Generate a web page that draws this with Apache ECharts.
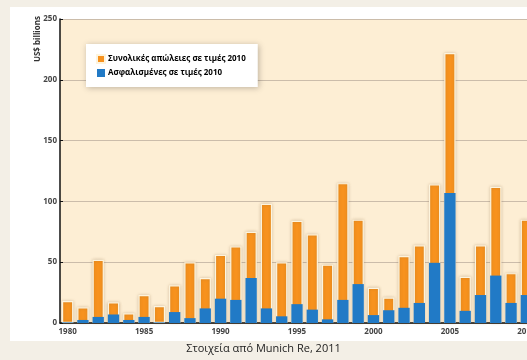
<!DOCTYPE html>
<html>
<head>
<meta charset="utf-8">
<script src="https://cdn.jsdelivr.net/npm/echarts@6/dist/echarts.min.js"></script>
<style>
  html, body { margin: 0; padding: 0; background: #f3efe6; }
  #main { width: 527px; height: 360px; }
</style>
</head>
<body>
<div id="main"></div>
<script>
// years on the x axis
const years = [];
for (let y = 1980; y <= 2010; y++) years.push(String(y));

// overall losses, 2010 values (US$ bn)
const totalLosses = [18, 13, 52, 17, 8, 23, 14, 31, 50, 37,
                     56, 63, 75, 98, 50, 84, 73, 48, 115, 85,
                     29, 21, 55, 64, 114, 222, 38, 64, 112, 41, 85];
// insured losses, 2010 values (US$ bn)
const insuredLosses = [0.5, 2.5, 5, 7, 2.5, 5, 0.5, 9, 4, 12,
                       20, 19, 37, 12, 5.5, 15.5, 11, 3, 19, 32,
                       6.5, 10.5, 12.5, 16.5, 49.5, 107, 10, 23, 39, 16.5, 23];

const names = ['Συνολικές απώλειες σε τιμές 2010', 'Ασφαλισμένες σε τιμές 2010'];

const chart = echarts.init(document.getElementById('main'));

const option = {
    backgroundColor: '#f3efe6',
    animation: false,
    textStyle: { fontFamily: '"Open Sans", "Noto Sans", sans-serif' },
    graphic: [
        { type: 'rect', z: -10, shape: { x: 10, y: 7, width: 530, height: 334 }, style: { fill: '#ffffff' } },
        {
            type: 'text', left: 'center', top: 343,
            style: { text: 'Στοιχεία από Munich Re, 2011', fill: '#222', font: '11px "Open Sans", "Noto Sans", sans-serif' }
        },
        {
            type: 'text', x: 34, y: 16, rotation: Math.PI / 2, originX: 0, originY: 0,
            style: {
                text: 'US$ billions', fill: '#333', align: 'right', verticalAlign: 'top',
                font: 'bold 8px "Open Sans", "Noto Sans", sans-serif'
            }
        }
    ],
    legend: {
        orient: 'vertical',
        left: 86, top: 44,
        padding: [10, 12, 10, 10],
        itemWidth: 8, itemHeight: 8, itemGap: 5,
        backgroundColor: '#ffffff',
        shadowBlur: 6, shadowColor: 'rgba(0,0,0,0.25)', shadowOffsetX: 1, shadowOffsetY: 1,
        icon: 'rect',
        textStyle: { fontSize: 8, fontWeight: 'bold', color: '#000', padding: [0, 0, 0, -2] },
        data: names
    },
    grid: {
        left: 60, top: 19, bottom: 37, right: -7,
        containLabel: false,
        outerBoundsMode: 'none',
        show: true, backgroundColor: '#fdeed4', borderWidth: 0
    },
    xAxis: {
        type: 'category',
        data: years,
        axisLine: { lineStyle: { color: '#111', width: 1.5 } },
        axisTick: { interval: 0, length: 3, lineStyle: { color: '#111' } },
        axisLabel: { interval: 4, fontSize: 8, fontWeight: 'bold', color: '#444', margin: 5 }
    },
    yAxis: {
        type: 'value',
        min: 0, max: 250, interval: 50,
        axisLine: { show: true, lineStyle: { color: '#111', width: 1.5 } },
        axisTick: { show: true, length: 3, inside: true, lineStyle: { color: '#111' } },
        axisLabel: { fontSize: 8, fontWeight: 'bold', color: '#444', margin: 3 },
        splitLine: { lineStyle: { color: '#cbbcaa', width: 1 } }
    },
    series: [
        {
            name: names[0],
            type: 'bar',
            data: totalLosses,
            barWidth: '74%',
            barGap: '-100%',
            itemStyle: {
                color: '#f7921e', borderColor: '#fdf4de', borderWidth: 1.2,
                shadowBlur: 3, shadowColor: 'rgba(120,90,40,0.35)'
            }
        },
        {
            name: names[1],
            type: 'bar',
            data: insuredLosses,
            barWidth: '74%',
            barGap: '-100%',
            itemStyle: { color: '#217ac6' }
        }
    ]
};

chart.setOption(option);
</script>
</body>
</html>
